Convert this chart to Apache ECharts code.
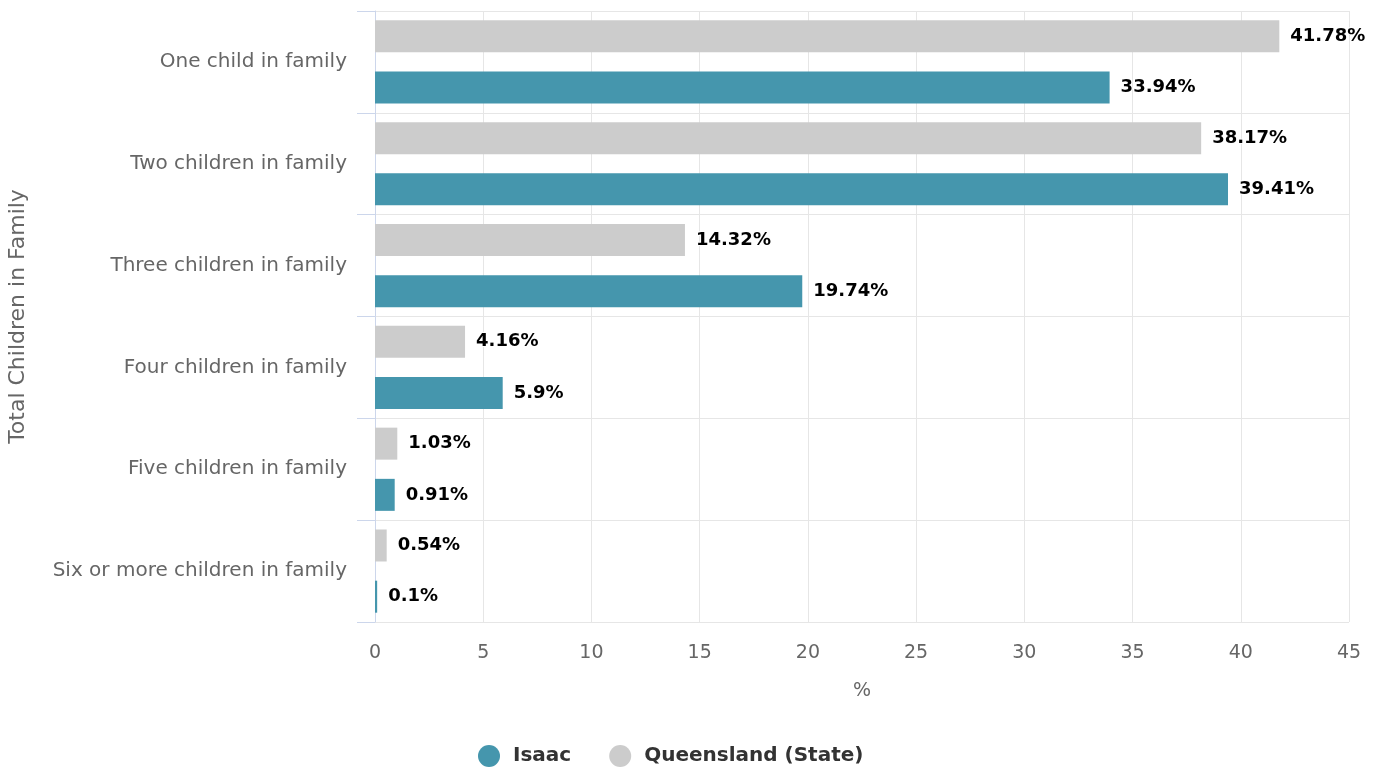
<!DOCTYPE html>
<html><head><meta charset="utf-8">
<script src="https://cdn.jsdelivr.net/npm/echarts@6/dist/echarts.min.js"></script>
<style>html,body{margin:0;padding:0;background:#fff}#c{width:1387px;height:771px}</style>
</head><body><div id="c"></div>
<script>
const categories = ["One child in family","Two children in family","Three children in family","Four children in family","Five children in family","Six or more children in family"];
const isaac = [33.94, 39.41, 19.74, 5.9, 0.91, 0.1];
const queensland = [41.78, 38.17, 14.32, 4.16, 1.03, 0.54];
const seriesNames = ["Isaac","Queensland (State)"];

const FONT = '"DejaVu Sans", Verdana, sans-serif';
const chart = echarts.init(document.getElementById('c'));
const labelCfg = {
  show: true, position: 'right', distance: 11,
  formatter: p => p.value + '%',
  color: '#000', fontFamily: FONT, fontWeight: 'bold', fontSize: 18,
  textBorderColor: '#fff', textBorderWidth: 2
};
chart.setOption({
  animation: false,
  grid: {left: 375, right: 38, top: 11, bottom: 149, containLabel: false, outerBoundsMode: 'none'},
  legend: {
    bottom: 4, left: 478, padding: 0, itemGap: 38, icon: 'circle', itemWidth: 22, itemHeight: 22,
    textStyle: {fontFamily: FONT, fontWeight: 'bold', fontSize: 20, color: '#333', padding: [0, 0, 0, 8]},
    data: seriesNames
  },
  xAxis: {
    type: 'value', min: 0, max: 45, interval: 5,
    name: '%', nameLocation: 'middle', nameGap: 60,
    nameTextStyle: {fontFamily: FONT, fontSize: 19, color: '#666'},
    axisLabel: {fontFamily: FONT, fontSize: 19, color: '#666', margin: 22},
    axisLine: {show: false}, axisTick: {show: false},
    splitLine: {lineStyle: {color: '#e6e6e6', width: 1}}
  },
  yAxis: {
    type: 'category', data: categories, inverse: true,
    name: 'Total Children in Family', nameLocation: 'middle', nameGap: 346, nameRotate: 90,
    nameTextStyle: {fontFamily: FONT, fontSize: 22, color: '#666'},
    axisLabel: {fontFamily: FONT, fontSize: 20, color: '#666', margin: 28},
    axisLine: {show: true, lineStyle: {color: '#ccd6eb'}},
    axisTick: {show: true, length: 18, lineStyle: {color: '#ccd6eb'}},
    splitLine: {show: true, lineStyle: {color: '#e6e6e6'}}
  },
  series: [
    {name: seriesNames[1], type: 'bar', data: queensland, barWidth: 32, barGap: '60%',
     itemStyle: {color: '#cccccc'}, label: labelCfg},
    {name: seriesNames[0], type: 'bar', data: isaac, barWidth: 32, barGap: '60%',
     itemStyle: {color: '#4596ad'}, label: labelCfg}
  ]
});
</script></body></html>
